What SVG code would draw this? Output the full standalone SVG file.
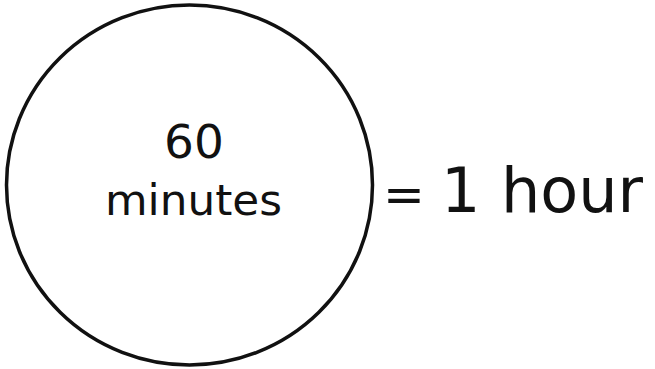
<svg xmlns="http://www.w3.org/2000/svg" width="655" height="369" viewBox="0 0 655 369">
<style>
.t{font-family:"DejaVu Sans","Liberation Sans",sans-serif;fill:#111}
</style>
<rect width="655" height="369" fill="#fff"/>
<g id="circle">
<ellipse cx="189.5" cy="185" rx="183" ry="180" fill="none" stroke="#111" stroke-width="3.5"/>
<text class="t" x="194" y="158" font-size="47" text-anchor="middle">60</text>
<text class="t" x="193.5" y="215" font-size="43" text-anchor="middle" textLength="177" lengthAdjust="spacingAndGlyphs">minutes</text>
</g>
<g id="label">
<text class="t" y="212" font-size="62"><tspan x="383" font-size="50">=</tspan><tspan x="441"> </tspan><tspan x="441">1</tspan><tspan x="501"> </tspan><tspan x="501">hour</tspan></text>
</g>
</svg>
